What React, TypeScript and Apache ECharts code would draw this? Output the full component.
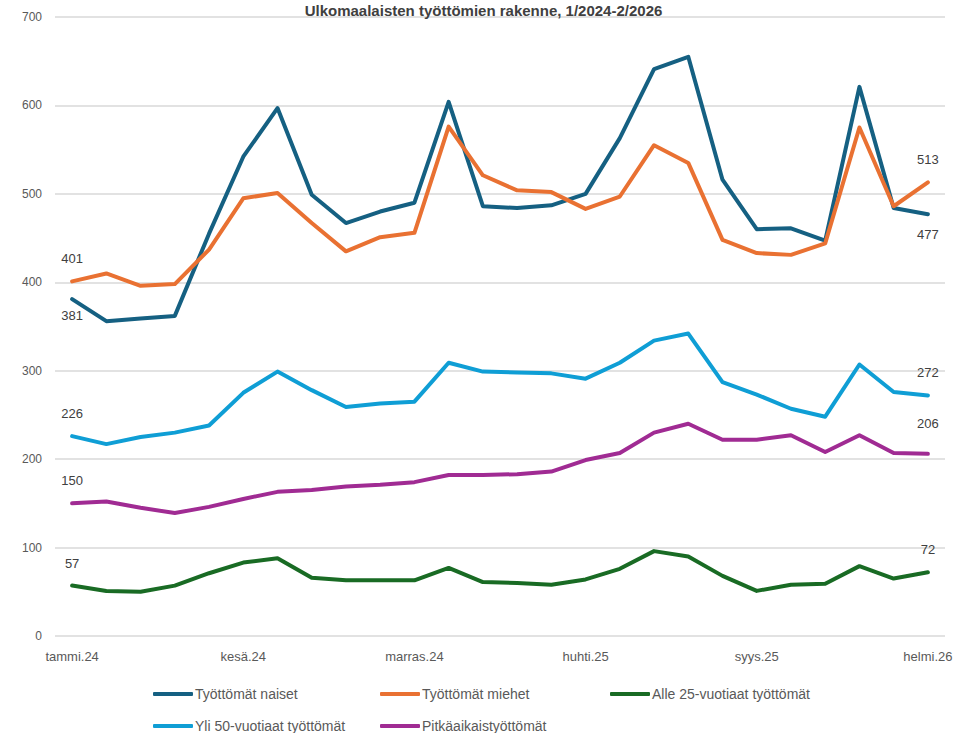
import React, { useEffect, useRef } from "react";
import * as echarts from "echarts";

const categories = [
  "tammi.24", "helmi.24", "maalis.24", "huhti.24", "touko.24", "kesä.24",
  "heinä.24", "elo.24", "syys.24", "loka.24", "marras.24", "joulu.24",
  "tammi.25", "helmi.25", "maalis.25", "huhti.25", "touko.25", "kesä.25",
  "heinä.25", "elo.25", "syys.25", "loka.25", "marras.25", "joulu.25",
  "tammi.26", "helmi.26",
];

const naiset = [381, 356, 359, 362, 455, 542, 597, 499, 467, 480, 490, 604, 486, 484, 487, 500, 563, 641, 655, 516, 460, 461, 447, 621, 484, 477];
const miehet = [401, 410, 396, 398, 437, 495, 501, 467, 435, 451, 456, 576, 521, 504, 502, 483, 497, 555, 535, 448, 433, 431, 444, 575, 486, 513];
const alle25 = [57, 51, 50, 57, 71, 83, 88, 66, 63, 63, 63, 77, 61, 60, 58, 64, 76, 96, 90, 68, 51, 58, 59, 79, 65, 72];
const yli50 = [226, 217, 225, 230, 238, 275, 299, 278, 259, 263, 265, 309, 299, 298, 297, 291, 309, 334, 342, 287, 273, 257, 248, 307, 276, 272];
const pitka = [150, 152, 145, 139, 146, 155, 163, 165, 169, 171, 174, 182, 182, 183, 186, 199, 207, 230, 240, 222, 222, 227, 208, 227, 207, 206];

const yTicks = [0, 100, 200, 300, 400, 500, 600, 700];

const names = [
  "Työttömät naiset",
  "Työttömät miehet",
  "Alle 25-vuotiaat työttömät",
  "Yli 50-vuotiaat työttömät",
  "Pitkäaikaistyöttömät",
];
const colors = ["#156082", "#E97132", "#196B24", "#0F9ED5", "#A02B93"];

const FONT = "Liberation Sans, Arial, sans-serif";
const labelStyle = { color: "#404040", fontSize: 13, fontFamily: FONT };

function withEndLabels(values: number[], firstPos: string, lastPos: string, firstDist = 12, lastDist = 12) {
  return values.map((v, i) => {
    if (i === 0) {
      return { value: v, label: { show: true, position: firstPos, distance: firstDist, ...labelStyle } };
    }
    if (i === values.length - 1) {
      return { value: v, label: { show: true, position: lastPos, distance: lastDist, ...labelStyle } };
    }
    return { value: v, label: { show: false } };
  });
}

export default function App() {
  const ref = useRef<HTMLDivElement>(null);
  useEffect(() => {
    if (!ref.current) return;
    const chart = echarts.init(ref.current, null, { renderer: "svg" });
    const seriesData = [
      withEndLabels(naiset, "bottom", "bottom", 10, 14),
      withEndLabels(miehet, "top", "top", 16, 16),
      withEndLabels(alle25, "top", "top", 16, 16),
      withEndLabels(yli50, "top", "top", 16, 16),
      withEndLabels(pitka, "top", "top", 16, 24),
    ];
    const legendLefts = [153, 380, 610, 153, 380];
    const legendTops = [687, 687, 687, 719, 719];
    chart.setOption({
      animation: false,
      backgroundColor: "#ffffff",
      title: {
        text: "Ulkomaalaisten työttömien rakenne, 1/2024-2/2026",
        left: "center",
        top: -2,
        textStyle: { fontSize: 15, fontWeight: "bold", color: "#404040", fontFamily: FONT },
      },
      legend: names.map((n, i) => ({
        data: [n],
        left: legendLefts[i],
        top: legendTops[i],
        icon: "roundRect",
        itemWidth: 40,
        itemHeight: 4,
        padding: 0,
        textStyle: { fontSize: 14, color: "#595959", fontFamily: FONT, padding: [0, 0, 0, -3] },
        selectedMode: false,
      })),
      grid: { left: 55, right: 22, top: 17, bottom: 97, containLabel: false, outerBoundsMode: "none" },
      xAxis: {
        type: "category",
        data: categories,
        boundaryGap: true,
        axisTick: { show: false },
        axisLine: { show: false },
        axisLabel: {
          interval: 4,
          color: "#595959",
          fontSize: 13,
          margin: 14,
          fontFamily: FONT,
          alignMinLabel: "center",
          alignMaxLabel: "center",
        },
      },
      yAxis: {
        type: "value",
        min: yTicks[0],
        max: yTicks[yTicks.length - 1],
        interval: 100,
        axisLine: { show: false },
        axisTick: { show: false },
        splitLine: { lineStyle: { color: "#d9d9d9", width: 1.5 } },
        axisLabel: {
          color: "#595959",
          fontSize: 12,
          margin: 13,
          fontFamily: FONT,
        },
      },
      series: names.map((n, i) => ({
        name: n,
        type: "line",
        data: seriesData[i],
        symbol: "circle",
        symbolSize: 0.01,
        showSymbol: true,
        smooth: false,
        lineStyle: { color: colors[i], width: 4, cap: "round", join: "round" },
        itemStyle: { color: colors[i] },
        z: 2,
      })),
    });
    return () => chart.dispose();
  }, []);
  return <div ref={ref} style={{ width: 967, height: 733, position: "absolute", left: 0, top: 0 }} />;
}
